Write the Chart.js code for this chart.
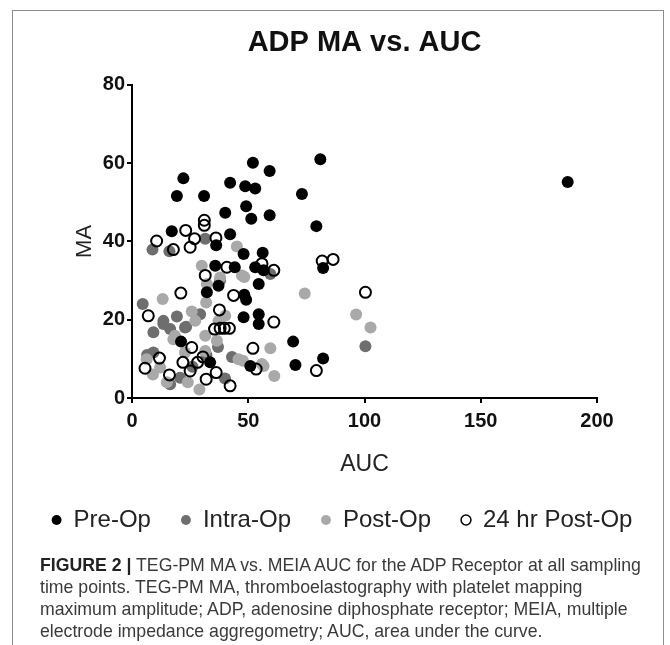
<!DOCTYPE html>
<html>
<head>
<meta charset="utf-8">
<script src="https://cdn.jsdelivr.net/npm/chart.js"></script>
<style>
  html, body { margin: 0; padding: 0; background: #fff; }
  body { width: 670px; height: 645px; position: relative; overflow: hidden; }
  .frame { position: absolute; left: 12px; top: 10px; width: 650px; height: 660px; border: 1px solid #8c8c8c; }
  .wrap { position: absolute; left: 0; top: 0; width: 670px; height: 560px; }
  .caption { position: absolute; left: 40px; top: 554px; width: 610px;
    font-family: "Liberation Sans", Arial, sans-serif; font-size: 17.7px;
    line-height: 22px; color: #3a3a3a; white-space: nowrap; }
  .caption b { color: #222; }
</style>
</head>
<body>
<div class="frame"></div>
<div class="wrap"><canvas id="grafico" width="670" height="560"></canvas></div>
<div class="caption">
  <b>FIGURE 2 |</b> TEG-PM MA vs. MEIA AUC for the ADP Receptor at all sampling<br>
  time points. TEG-PM MA, thromboelastography with platelet mapping<br>
  maximum amplitude; ADP, adenosine diphosphate receptor; MEIA, multiple<br>
  electrode impedance aggregometry; AUC, area under the curve.
</div>
<script>
// valores (AUC, MA)
const preOp = [
  [22.1, 56.1], [19.3, 51.6], [31.0, 51.6], [52.0, 60.1], [59.2, 58.0], [42.2, 55.0],
  [48.7, 54.1], [53.0, 53.5], [40.1, 47.3], [49.1, 49.0], [51.3, 45.8], [59.2, 46.7],
  [17.1, 42.6], [42.2, 41.8], [81.0, 61.0], [73.1, 52.1], [79.3, 43.9], [48.0, 36.8],
  [56.2, 37.1], [44.2, 33.4], [53.0, 33.4], [54.5, 29.1], [82.2, 33.2], [36.2, 39.0],
  [35.8, 33.8], [56.6, 32.6], [32.2, 27.0], [37.2, 28.7], [48.3, 26.4], [49.1, 25.1],
  [48.0, 20.6], [54.5, 21.4], [54.5, 18.9], [69.3, 14.4], [70.3, 8.4], [82.2, 10.1],
  [50.9, 8.2], [33.6, 9.1], [21.1, 14.4], [187.4, 55.2]
];
const intraOp = [
  [8.8, 37.9], [16.1, 37.5], [31.5, 40.7], [37.9, 30.0], [4.6, 24.0], [13.5, 19.7],
  [16.4, 17.6], [9.2, 16.8], [22.8, 18.0], [29.3, 21.4], [43.0, 10.5], [9.2, 11.6],
  [16.4, 3.5], [20.7, 5.2], [59.5, 31.7], [100.4, 13.2], [19.3, 20.8], [6.5, 11.0],
  [26.0, 8.0], [32.0, 11.0], [37.0, 13.0], [40.0, 5.0], [13.5, 18.9], [23.3, 18.2]
];
const postOp = [
  [45.1, 38.7], [30.0, 33.8], [37.9, 30.8], [47.3, 31.3], [32.2, 29.1], [13.2, 25.3],
  [31.9, 24.4], [25.7, 22.1], [27.2, 19.7], [40.1, 21.0], [31.5, 15.9], [17.8, 15.0],
  [36.5, 14.6], [45.8, 9.9], [6.3, 9.9], [12.1, 7.8], [22.8, 11.6], [31.5, 12.0],
  [29.0, 2.2], [74.3, 26.7], [96.4, 21.3], [102.6, 18.0], [59.5, 12.7], [61.2, 5.6],
  [55.9, 8.7], [47.7, 9.5], [56.6, 8.2], [48.3, 30.9], [18.5, 15.9], [37.2, 19.7],
  [9.0, 6.0], [15.0, 4.0], [24.0, 4.0]
];
const postOp24 = [
  [31.1, 45.4], [31.1, 44.1], [23.1, 42.8], [10.6, 40.1], [17.8, 37.9], [26.9, 40.7],
  [25.0, 38.5], [36.1, 40.9], [40.8, 33.4], [31.5, 31.3], [21.0, 26.8], [43.7, 26.2],
  [37.6, 22.5], [7.0, 21.0], [35.5, 17.6], [37.9, 17.8], [39.7, 17.8], [41.9, 17.8],
  [25.7, 12.9], [52.0, 12.7], [53.4, 7.4], [11.8, 10.2], [5.6, 7.6], [16.1, 5.9],
  [21.9, 9.1], [25.0, 6.9], [30.5, 10.5], [28.2, 9.1], [31.9, 4.8], [36.2, 6.5],
  [42.2, 3.1], [61.0, 32.6], [61.0, 19.4], [81.8, 35.0], [86.5, 35.4], [100.4, 27.0],
  [79.3, 7.0], [55.9, 34.3]
];
const xTicks = [0, 50, 100, 150, 200];
const yTicks = [0, 20, 40, 60, 80];

const toPts = (arr) => arr.map(p => ({ x: p[0], y: p[1] }));
const fonte = "'Liberation Sans', Arial, sans-serif";

const ctx = document.getElementById('grafico').getContext('2d');
const grafico = new Chart(ctx, {
    type: 'scatter',
    data: {
        datasets: [
            { label: 'Pre-Op', data: toPts(preOp), backgroundColor: '#000', borderColor: '#000',
              borderWidth: 0, pointRadius: 6, order: 1 },
            { label: 'Intra-Op', data: toPts(intraOp), backgroundColor: '#6e6e6e', borderColor: '#6e6e6e',
              borderWidth: 0, pointRadius: 6, order: 3 },
            { label: 'Post-Op', data: toPts(postOp), backgroundColor: '#a9a9a9', borderColor: '#a9a9a9',
              borderWidth: 0, pointRadius: 6, order: 2 },
            { label: '24 hr Post-Op', data: toPts(postOp24), backgroundColor: 'rgba(255,255,255,0)',
              borderColor: '#000', borderWidth: 2, pointRadius: 5.5, order: 0 }
        ]
    },
    options: {
        responsive: false,
        animation: false,
        layout: { padding: { top: 10, left: 14, right: 0, bottom: 18 } },
        plugins: {
            tooltip: { enabled: false },
            title: {
                display: true,
                fullSize: false,
                text: 'ADP MA vs. AUC',
                color: '#111',
                font: { family: fonte, size: 29, weight: 'bold' },
                padding: { top: 16, bottom: 24 }
            },
            legend: {
                position: 'bottom',
                labels: {
                    sort: (a, b) => a.datasetIndex - b.datasetIndex,
                    usePointStyle: true,
                    pointStyle: 'circle',
                    boxWidth: 10,
                    boxHeight: 7,
                    padding: 30,
                    color: '#222',
                    font: { family: fonte, size: 24 },
                    generateLabels: (chart) => chart.data.datasets.map((ds, i) => ({
                        text: ds.label,
                        fillStyle: i === 3 ? '#fff' : ds.backgroundColor,
                        strokeStyle: i === 3 ? '#000' : ds.backgroundColor,
                        lineWidth: i === 3 ? 1.5 : 0,
                        pointStyle: 'circle',
                        fontColor: '#222',
                        datasetIndex: i
                    }))
                }
            }
        },
        scales: {
            x: {
                type: 'linear',
                min: 0, max: 200,
                afterBuildTicks: (s) => { s.ticks = xTicks.map(v => ({ value: v })); },
                afterFit: (s) => { s.height = 80; },
                grid: { drawOnChartArea: false, drawTicks: true, tickLength: 5, color: '#000', lineWidth: 2 },
                border: { display: true, color: '#000', width: 2 },
                ticks: { color: '#111', padding: 6, font: { family: fonte, size: 20, weight: 'bold' } },
                title: { display: true, text: 'AUC', color: '#222', font: { family: fonte, size: 23 },
                         padding: { top: 8, bottom: 0 } }
            },
            y: {
                type: 'linear',
                min: 0, max: 80,
                afterBuildTicks: (s) => { s.ticks = yTicks.map(v => ({ value: v })); },
                afterFit: (s) => { s.width = 118; },
                grid: { drawOnChartArea: false, drawTicks: true, tickLength: 5, color: '#000', lineWidth: 2 },
                border: { display: true, color: '#000', width: 2 },
                ticks: { color: '#111', padding: 2, font: { family: fonte, size: 20, weight: 'bold' } },
                title: { display: true, text: 'MA', color: '#222', font: { family: fonte, size: 22 },
                         padding: { top: 58, bottom: 0 } }
            },
            // eixo vazio so para reservar a margem direita
            vazio: {
                type: 'linear',
                position: 'right',
                display: true,
                afterFit: (s) => { s.width = 73; },
                grid: { display: false },
                border: { display: false },
                ticks: { display: false }
            }
        }
    }
});
</script>
</body>
</html>
